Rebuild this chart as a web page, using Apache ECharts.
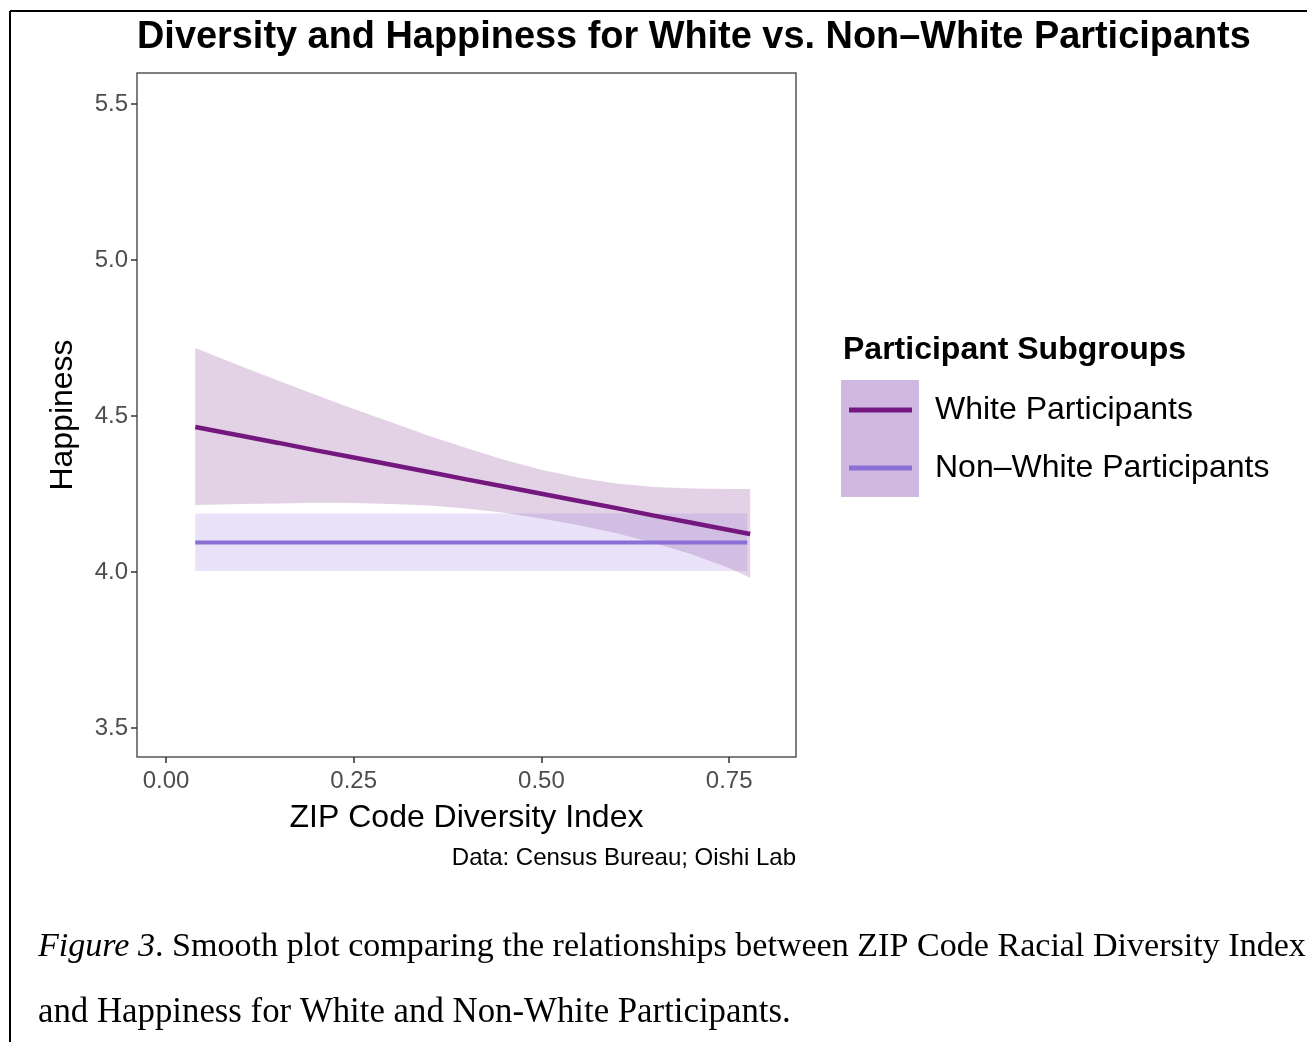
<!DOCTYPE html>
<html lang="en">
<head>
  <meta charset="UTF-8" />
  <title>Diversity and Happiness</title>
  <script src="https://cdn.jsdelivr.net/npm/echarts@6/dist/echarts.min.js"></script>
  <style>
    html, body { margin: 0; padding: 0; background: #fff; }
  </style>
</head>
<body>
  <div id="main" style="width: 1307px; height: 1042px;"></div>
  <script type="text/javascript">
    // values
    const whiteX = [0.039, 0.1, 0.15, 0.2, 0.25, 0.3, 0.35, 0.4, 0.45, 0.5, 0.55, 0.6, 0.65, 0.7, 0.75, 0.778]
    const whiteFit = [4.465, 4.437, 4.414, 4.390, 4.367, 4.344, 4.321, 4.297, 4.274, 4.251, 4.228, 4.205, 4.181, 4.158, 4.135, 4.122]
    const whiteUpper = [4.718, 4.660, 4.613, 4.568, 4.523, 4.480, 4.437, 4.398, 4.360, 4.328, 4.302, 4.284, 4.273, 4.268, 4.266, 4.266]
    const whiteLower = [4.215, 4.218, 4.220, 4.222, 4.221, 4.218, 4.213, 4.204, 4.190, 4.172, 4.150, 4.124, 4.093, 4.057, 4.013, 3.982]

    const nonWhiteX = [0.039, 0.774]
    const nonWhiteFit = [4.095, 4.095]
    const nonWhiteUpper = [4.188, 4.188]
    const nonWhiteLower = [4.003, 4.003]

    const xTicks = [0, 0.25, 0.5, 0.75]
    const yTicks = [3.5, 4.0, 4.5, 5.0, 5.5]
    const groups = ['White Participants', 'Non\u2013White Participants']

    const sans = 'Liberation Sans'
    const serif = 'Liberation Serif'
    const myChart = echarts.init(document.getElementById('main'))

    // ribbon as one polygon: upper edge left->right, lower edge back
    function ribbon(xs, lo, hi, fill) {
      return {
        type: 'custom',
        silent: true,
        data: xs.map((x, i) => [x, lo[i], hi[i]]),
        renderItem: function (params, api) {
          if (params.dataIndex !== 0) return
          const pts = []
          xs.forEach((x, i) => pts.push(api.coord([x, hi[i]])))
          for (let i = xs.length - 1; i >= 0; i--) pts.push(api.coord([xs[i], lo[i]]))
          return { type: 'polygon', shape: { points: pts }, style: { fill: fill } }
        }
      }
    }

    const option = {
      animation: false,
      grid: { left: 137, top: 73, width: 659, height: 684, show: true, borderColor: '#555', borderWidth: 1.5, backgroundColor: '#fff' },
      xAxis: {
        type: 'value', min: -0.0386, max: 0.839,
        name: 'ZIP Code Diversity Index', nameLocation: 'middle', nameGap: 45,
        nameTextStyle: { fontFamily: sans, fontSize: 32, color: '#000' },
        axisLine: { show: false, onZero: false },
        splitLine: { show: false },
        axisTick: { show: true, length: 6, lineStyle: { color: '#333', width: 1.5 }, customValues: xTicks },
        axisLabel: { customValues: xTicks, margin: 12, fontFamily: sans, fontSize: 24, color: '#4D4D4D', formatter: v => v.toFixed(2) }
      },
      yAxis: {
        type: 'value', min: 3.407, max: 5.6,
        name: 'Happiness', nameLocation: 'middle', nameGap: 58, nameRotate: 90,
        nameTextStyle: { fontFamily: sans, fontSize: 32, color: '#000' },
        axisLine: { show: false, onZero: false },
        splitLine: { show: false },
        axisTick: { show: true, length: 6, lineStyle: { color: '#333', width: 1.5 }, customValues: yTicks },
        axisLabel: { customValues: yTicks, margin: 9, fontFamily: sans, fontSize: 24, color: '#4D4D4D', formatter: v => v.toFixed(1) }
      },
      legend: {
        data: groups,
        orient: 'vertical',
        left: 849, top: 393, padding: 0,
        icon: 'rect', itemWidth: 63, itemHeight: 5, itemGap: 24,
        selectedMode: false,
        textStyle: { fontFamily: sans, fontSize: 32, color: '#000', lineHeight: 34, padding: [0, 0, 0, 18] }
      },
      series: [
        ribbon(whiteX, whiteLower, whiteUpper, 'rgba(116, 23, 127, 0.2)'),
        ribbon(nonWhiteX, nonWhiteLower, nonWhiteUpper, 'rgba(147, 112, 219, 0.2)'),
        {
          name: groups[0], type: 'line', showSymbol: false, silent: true,
          data: whiteX.map((x, i) => [x, whiteFit[i]]),
          lineStyle: { color: '#74177F', width: 4.5 }, itemStyle: { color: '#74177F' }
        },
        {
          name: groups[1], type: 'line', showSymbol: false, silent: true,
          data: nonWhiteX.map((x, i) => [x, nonWhiteFit[i]]),
          lineStyle: { color: '#8A6FD6', width: 4 }, itemStyle: { color: '#8A6FD6' }
        }
      ],
      graphic: [
        { type: 'line', shape: { x1: 10, y1: 11, x2: 1307, y2: 11 }, style: { stroke: '#000', lineWidth: 2 } },
        { type: 'line', shape: { x1: 10, y1: 11, x2: 10, y2: 1042 }, style: { stroke: '#000', lineWidth: 2 } },
        {
          type: 'text', x: 137, y: 38,
          style: { text: 'Diversity and Happiness for White vs. Non\u2013White Participants', fontFamily: sans, fontWeight: 'bold', fontSize: 37.9, fill: '#000', textVerticalAlign: 'middle' }
        },
        { type: 'rect', z: 0, shape: { x: 841, y: 380, width: 78, height: 117 }, style: { fill: '#D0B9E0' } },
        {
          type: 'text', x: 843, y: 350,
          style: { text: 'Participant Subgroups', fontFamily: sans, fontWeight: 'bold', fontSize: 32, fill: '#000', textVerticalAlign: 'middle' }
        },
        {
          type: 'text', x: 796, y: 858,
          style: { text: 'Data: Census Bureau; Oishi Lab', fontFamily: sans, fontSize: 24, fill: '#000', textAlign: 'right', textVerticalAlign: 'middle' }
        },
        {
          type: 'text', x: 38, y: 947,
          style: {
            text: '{i|Figure 3}. Smooth plot comparing the relationships between ZIP Code Racial Diversity Index',
            fontFamily: serif, fontSize: 34.1, fill: '#000', textVerticalAlign: 'middle',
            rich: { i: { fontFamily: serif, fontStyle: 'italic', fontSize: 34.1, fill: '#000' } }
          }
        },
        {
          type: 'text', x: 38, y: 1013,
          style: { text: 'and Happiness for White and Non-White Participants.', fontFamily: serif, fontSize: 34.8, fill: '#000', textVerticalAlign: 'middle' }
        }
      ]
    }
    myChart.setOption(option)
  </script>
</body>
</html>
